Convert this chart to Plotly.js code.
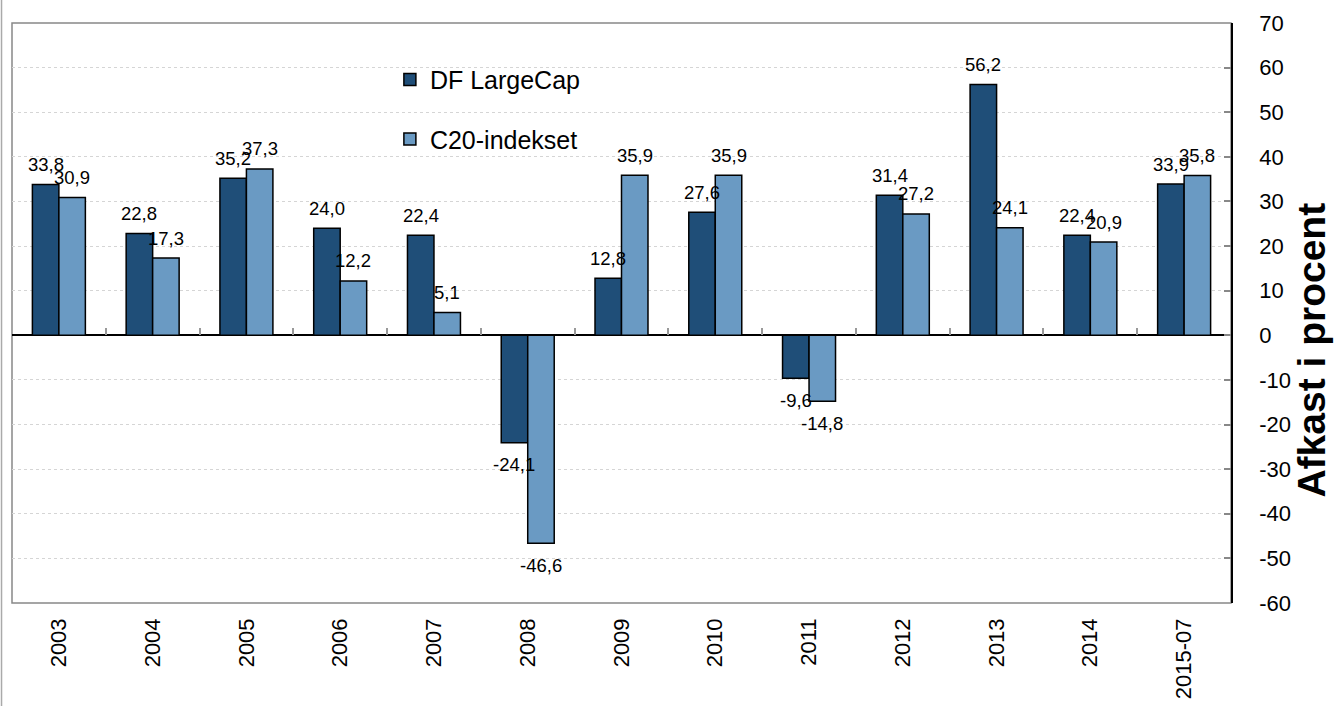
<!DOCTYPE html>
<html>
<head>
<meta charset="utf-8">
<script src="https://cdn.plot.ly/plotly-3.0.1.min.js"></script>
<style>html,body{margin:0;padding:0;background:#fff;}#chart{width:1337px;height:706px;}</style>
</head>
<body>
<div id="chart"></div>
<script>
const years = ["2003","2004","2005","2006","2007","2008","2009","2010","2011","2012","2013","2014","2015-07"];
const dfLargeCap = [33.8, 22.8, 35.2, 24.0, 22.4, -24.1, 12.8, 27.6, -9.6, 31.4, 56.2, 22.4, 33.9];
const c20 = [30.9, 17.3, 37.3, 12.2, 5.1, -46.6, 35.9, 35.9, -14.8, 27.2, 24.1, 20.9, 35.8];
const seriesNames = ["DF LargeCap", "C20-indekset"];
const yTickVals = [70, 60, 50, 40, 30, 20, 10, 0, -10, -20, -30, -40, -50, -60];
const yTickText = ["70","60","50","40","30","20","10","0","-10","-20","-30","-40","-50","-60"];
const yTitle = "Afkast i procent";

const FONT = "Liberation Sans, Arial, Helvetica, sans-serif";
const fmt = v => v.toFixed(1).replace(".", ",");

const traces = [
  {type:"bar", name:seriesNames[0], x:years, y:dfLargeCap, legendgroup:"a",
   marker:{color:"#1F4E78", line:{color:"#000", width:1.5}}, hoverinfo:"x+y"},
  {type:"bar", name:seriesNames[1], x:years, y:c20, legendgroup:"b",
   marker:{color:"#6A9AC3", line:{color:"#000", width:1.5}}, hoverinfo:"x+y"},
  {type:"scatter", mode:"none", x:years, y:years.map(()=>0), xaxis:"x2", yaxis:"y", showlegend:false, hoverinfo:"skip"}
];

const annotations = [];
[[dfLargeCap,-13.3],[c20,13.3]].forEach(([arr,dx])=>{
  arr.forEach((v,i)=>{
    annotations.push({x:i, y:v, xref:"x", yref:"y", text:fmt(v), showarrow:false,
      xshift:dx, yshift: v>=0 ? 20 : -22, font:{family:FONT, size:18.5, color:"#000"}});
  });
});
annotations.push({text:yTitle, xref:"paper", yref:"paper", x:1.066, y:0.436, xanchor:"center", yanchor:"middle",
  showarrow:false, textangle:-90, font:{family:FONT, size:39, color:"#000", weight:700}});

const catRange = [-0.5, years.length - 0.5];

const layout = {
  width:1337, height:706,
  margin:{l:12, r:106, t:23, b:103},
  paper_bgcolor:"#fff", plot_bgcolor:"#fff",
  font:{family:FONT, color:"#000"},
  barmode:"group", bargap:0.435, bargroupgap:0,
  showlegend:true,
  legend:{x:0.31, y:0.942, xanchor:"left", yanchor:"top", bgcolor:"rgba(0,0,0,0)",
    font:{family:FONT, size:25, color:"#000"}, tracegroupgap:24, traceorder:"grouped"},
  xaxis:{type:"category", range:catRange, tickangle:-90, tickfont:{family:FONT, size:22, color:"#000"},
    showline:false, ticks:"", showgrid:false, zeroline:false, ticklabelstandoff:10, fixedrange:true},
  xaxis2:{type:"category", range:catRange, overlaying:"x", anchor:"free", position:60/130, side:"bottom",
    ticks:"inside", tickson:"boundaries", ticklen:7, tickcolor:"#999", tickwidth:1.5,
    showticklabels:false, showline:false, showgrid:false, zeroline:false, fixedrange:true},
  yaxis:{side:"right", range:[-60,70], tickmode:"array", tickvals:yTickVals, ticktext:yTickText,
    ticks:"inside", ticklen:7, tickcolor:"#888", tickwidth:1.5,
    showline:true, linecolor:"#000", linewidth:1.5,
    showgrid:true, gridcolor:"#d5d5d5", griddash:"dot", gridwidth:1,
    zeroline:true, zerolinecolor:"#000", zerolinewidth:1.5,
    tickfont:{family:FONT, size:22, color:"#000"}, ticklabelstandoff:22, fixedrange:true},
  shapes:[
    {type:"rect", xref:"paper", yref:"paper", x0:0, x1:1, y0:0, y1:1, layer:"below",
     line:{color:"#888", width:1.5}},
    {type:"line", xref:"paper", yref:"paper", x0:-0.0086, x1:-0.0086, y0:-0.2, y1:1.1,
     line:{color:"#aaa", width:1.5}}
  ],
  annotations:annotations
};

Plotly.newPlot("chart", traces, layout, {displayModeBar:false});
</script>
</body>
</html>
